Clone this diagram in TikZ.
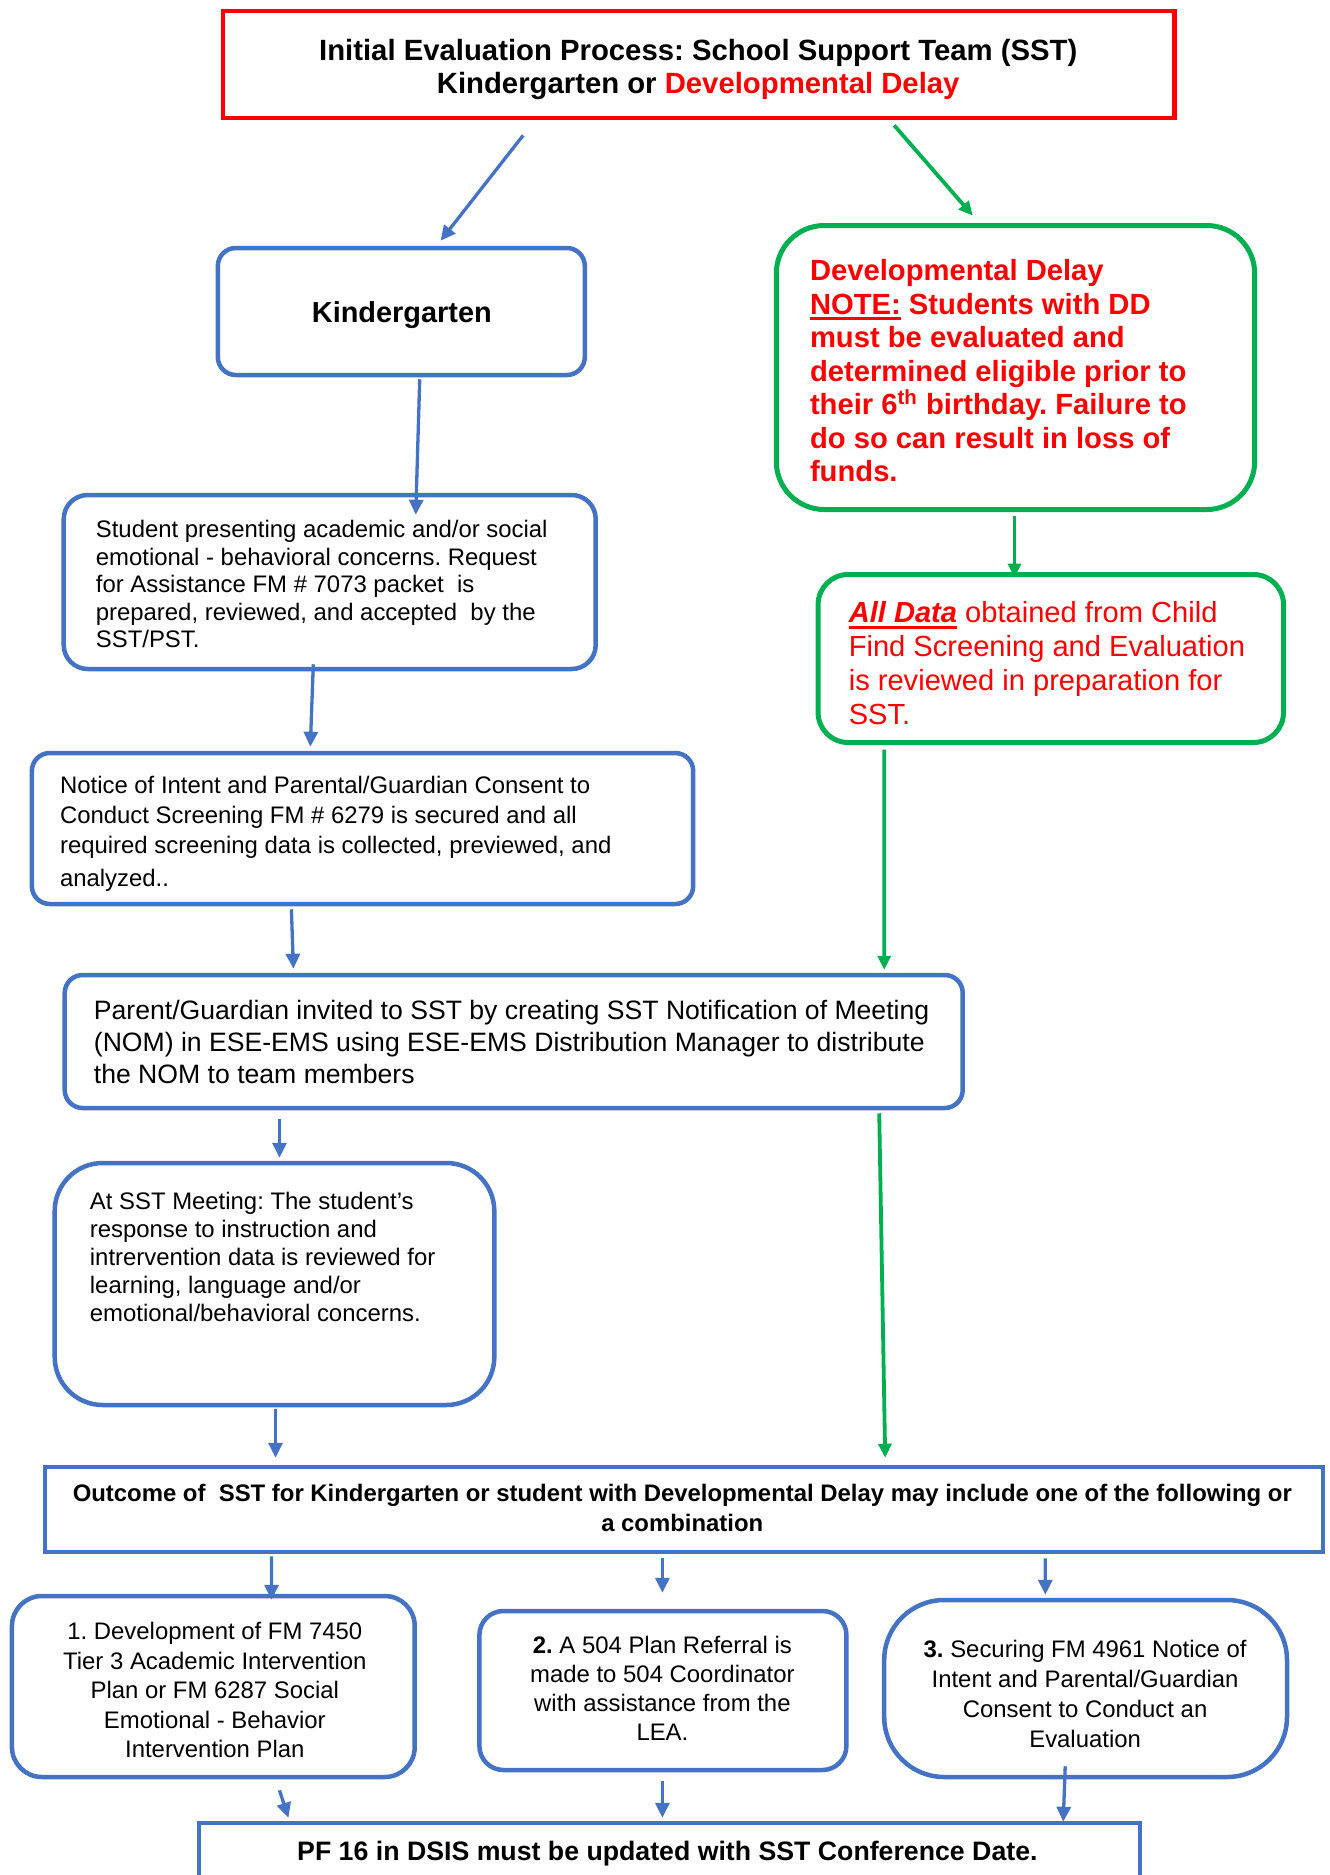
\documentclass[tikz,border=0pt]{standalone}
\usepackage{fontspec}
\setmainfont{Liberation Sans}
\usetikzlibrary{arrows.meta}
\definecolor{oblue}{HTML}{4472C4}
\definecolor{ogreen}{HTML}{00B050}
\definecolor{ored}{HTML}{FF0000}
\newsavebox\ulbox
\newcommand\thul[1]{\sbox\ulbox{#1}\rlap{\rule[-0.2em]{\wd\ulbox}{0.1em}}\usebox\ulbox}
\frenchspacing
\begin{document}
\frenchspacing
\begin{tikzpicture}[x=0.4973pt,y=-0.5pt,
  bbox/.style={draw=oblue, line width=2.25pt, inner sep=0pt},
  gbox/.style={draw=ogreen, line width=2.5pt, inner sep=0pt},
  rbox/.style={draw=ored, line width=2.3pt, inner sep=0pt},
  txt/.style={inner sep=0pt, anchor=north west, align=left},
  ctxt/.style={inner sep=0pt, anchor=north, align=center},
  barrow/.style={draw=oblue, line width=1.65pt, -{Triangle[length=7.5pt,width=7pt]}},
  garrow/.style={draw=ogreen, line width=1.9pt, -{Triangle[length=7pt,width=6.5pt]}}]
\useasboundingbox (0,0) rectangle (1337.2,1875);
\clip (0,0) rectangle (1337.2,1875);

% boxes
\node[rbox, minimum width=475.9pt, minimum height=53.5pt] (title) at (702.5,64.5) {};
\node[bbox, rounded corners=9pt, minimum width=183.5pt, minimum height=63.5pt] (kg) at (403.5,311.5) {};
\node[gbox, rounded corners=24pt, minimum width=239.2pt, minimum height=142pt] (dd) at (1021,367.5) {};
\node[bbox, rounded corners=12pt, minimum width=266pt, minimum height=87pt] (st) at (331.5,582) {};
\node[bbox, rounded corners=9pt, minimum width=330.7pt, minimum height=75.5pt] (nt) at (364.5,828.5) {};
\node[gbox, rounded corners=15pt, minimum width=232.7pt, minimum height=84pt] (ad) at (1056.5,658.5) {};
\node[bbox, rounded corners=9pt, minimum width=449pt, minimum height=66.5pt] (pg) at (516.5,1041.5) {};
\node[bbox, rounded corners=24pt, minimum width=219.8pt, minimum height=121pt] (at) at (276,1284) {};
\node[bbox, minimum width=639pt, minimum height=42.5pt] (oc) at (687.5,1509.5) {};
\node[bbox, rounded corners=15pt, minimum width=201.4pt, minimum height=90.5pt] (b1) at (214.5,1686.5) {};
\node[bbox, rounded corners=12pt, minimum width=183.5pt, minimum height=79.5pt] (b2) at (666.5,1690.5) {};
\node[bbox, rounded corners=30pt, minimum width=201.4pt, minimum height=88.5pt] (b3) at (1091.5,1688.5) {};
\node[bbox, minimum width=470.4pt, minimum height=41pt] (bt) at (673,1864) {};

% texts
\node[ctxt, font=\bfseries\fontsize{14.65}{16.5}\selectfont] (ttitle) at (702,39)
  {Initial Evaluation Process: School Support Team (SST)\\Kindergarten or {\color{ored}Developmental Delay}};
\node[inner sep=0pt, font=\bfseries\fontsize{14.45}{16.5}\selectfont] (tkg) at (404,315) {Kindergarten};
\node[txt, text=ored, font=\bfseries\fontsize{14.6}{16.75}\selectfont] (tdd) at (814,259)
  {Developmental Delay\\\thul{NOTE:} Students with DD\\must be evaluated and\\determined eligible prior to\\their 6\textsuperscript{th} birthday. Failure to\\do so can result in loss of\\funds.};
\node[txt, font=\fontsize{11.95}{13.75}\selectfont] (tst) at (96,520)
  {Student presenting academic and/or social\\emotional - behavioral concerns. Request\\for Assistance FM \# 7073 packet\ \ is\\prepared, reviewed, and accepted\ \ by the\\SST/PST.};
\node[txt, font=\fontsize{11.95}{15}\selectfont] (tnt) at (60,776)
  {Notice of Intent and Parental/Guardian Consent to\\Conduct Screening FM \# 6279 is secured and all\\required screening data is collected, previewed, and\\[1.5pt]analyzed..};
\node[txt, text=ored, font=\fontsize{14.55}{17}\selectfont] (tad) at (853,601.5)
  {\thul{\textbf{\textit{All Data}}} obtained from Child\\Find Screening and Evaluation\\is reviewed in preparation for\\SST.};
\node[txt, font=\fontsize{13.3}{16}\selectfont] (tpg) at (94,1000)
  {Parent/Guardian invited to SST by creating SST Notification of Meeting\\(NOM) in ESE-EMS using ESE-EMS Distribution Manager to distribute\\the NOM to team members};
\node[txt, font=\fontsize{11.95}{14}\selectfont] (tat) at (90,1192)
  {At SST Meeting: The student’s\\response to instruction and\\intrervention data is reviewed for\\learning, language and/or\\emotional/behavioral concerns.};
\node[ctxt, font=\bfseries\fontsize{11.95}{15}\selectfont] (toc) at (686,1484)
  {Outcome of\ \ SST for Kindergarten or student with Developmental Delay may include one of the following or\\a combination};
\node[ctxt, font=\fontsize{11.95}{14.75}\selectfont] (tb1) at (216,1622)
  {1. Development of FM 7450\\Tier 3 Academic Intervention\\Plan or FM 6287 Social\\Emotional - Behavior\\Intervention Plan};
\node[ctxt, font=\fontsize{11.95}{14.5}\selectfont] (tb2) at (666,1636)
  {\textbf{2.} A 504 Plan Referral is\\made to 504 Coordinator\\with assistance from the\\LEA.};
\node[ctxt, font=\fontsize{11.95}{15}\selectfont] (tb3) at (1091,1640)
  {\textbf{3.} Securing FM 4961 Notice of\\Intent and Parental/Guardian\\Consent to Conduct an\\Evaluation};
\node[inner sep=0pt, font=\bfseries\fontsize{13.35}{16}\selectfont] (tbt) at (671,1853.5)
  {PF 16 in DSIS must be updated with SST Conference Date.};

% connectors
\draw[barrow] ([shift={(-176.5,15)}]title.south) -- ([shift={(39.5,-5)}]kg.north);
\draw[garrow] ([shift={(196.5,5)}]title.south) -- ([shift={(-43,-7.5)}]dd.north);
\draw[barrow] ([shift={(18.5,2)}]kg.south) -- ([shift={(86.5,22)}]st.north);
\draw[barrow] ([shift={(-16.5,-7)}]st.south) -- ([shift={(-52.5,-4)}]nt.north);
\draw[barrow] ([shift={(-71.5,3)}]nt.south) -- ([shift={(-221.5,-4)}]pg.north);
\draw[garrow] ([shift={(-1,3.5)}]dd.south) -- ([shift={(-36.5,5.5)}]ad.north);
\draw[garrow] ([shift={(-167.5,4.5)}]ad.south) -- ([shift={(372.5,-3)}]pg.north);
\draw[barrow] ([shift={(-235.5,9)}]pg.south) -- ([shift={(5,-3)}]at.north);
\draw[barrow] ([shift={(1,2)}]at.south) -- ([shift={(-410.5,-7)}]oc.north);
\draw[garrow] ([shift={(367.5,3)}]pg.south) -- ([shift={(202.5,-7)}]oc.north);
\draw[barrow] ([shift={(-414.5,2)}]oc.south) -- ([shift={(58.5,6)}]b1.north);
\draw[barrow] ([shift={(-21.5,4)}]oc.south) -- ([shift={(-0.5,-16)}]b2.north);
\draw[barrow] ([shift={(363.5,4)}]oc.south) -- ([shift={(-40.5,-3)}]b3.north);
\draw[barrow] ([shift={(66.5,11)}]b1.south) -- ([shift={(-383,-3)}]bt.north);
\draw[barrow] ([shift={(-0.5,9)}]b2.south) -- ([shift={(-7,-3)}]bt.north);
\draw[barrow] ([shift={(-20.5,-13)}]b3.south) -- ([shift={(396,1)}]bt.north);
\end{tikzpicture}
\end{document}
